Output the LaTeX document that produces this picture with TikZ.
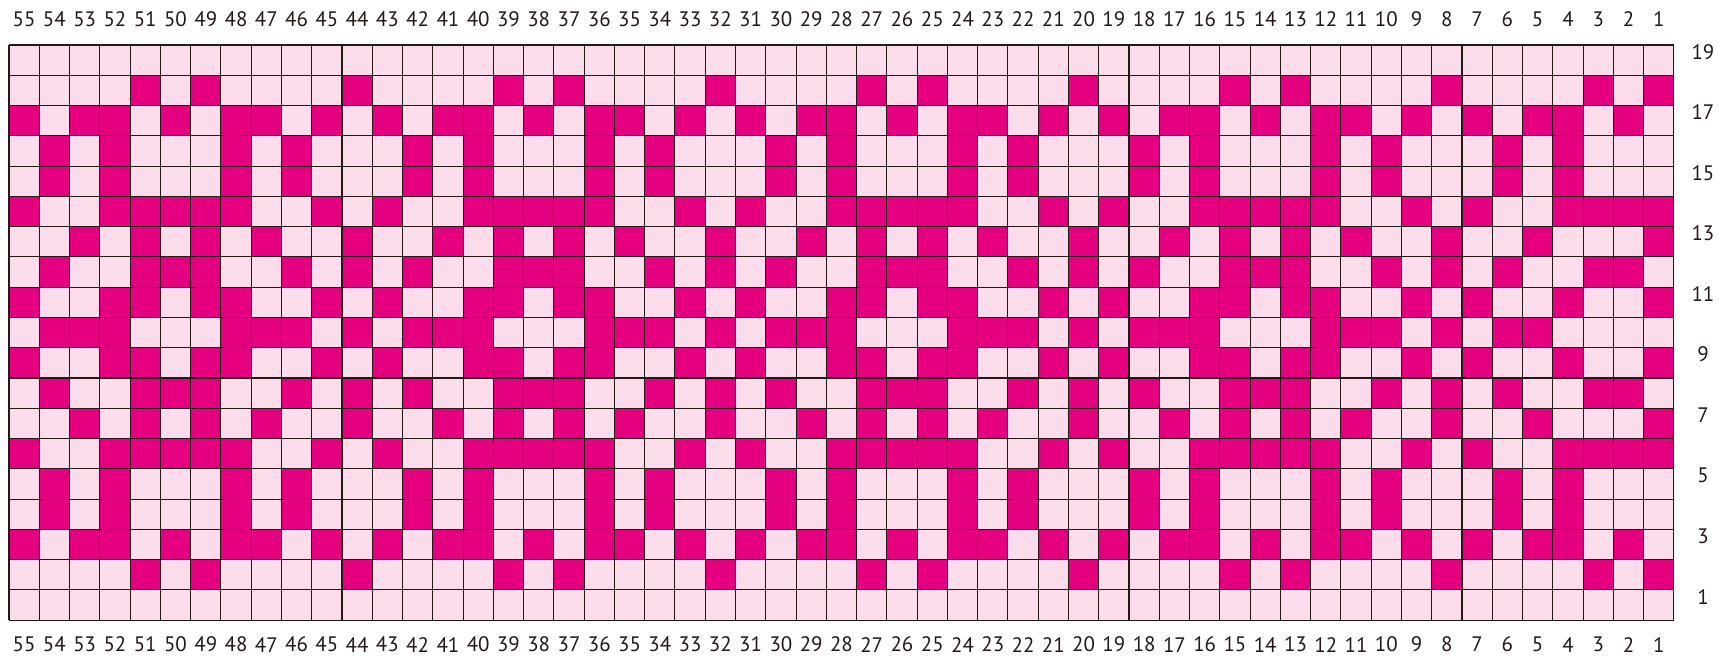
\documentclass[tikz,border=0pt]{standalone}
\usepackage{fontspec}
\setmainfont{PT Sans}
\definecolor{stitchdark}{RGB}{228,0,127}
\definecolor{stitchlight}{RGB}{250,220,234}
\definecolor{gridink}{RGB}{35,24,21}

\begin{document}
\begin{tikzpicture}[x=0.6cm, y=0.6cm, font=\fontsize{11.8}{14}\selectfont,
  numlabel/.style={inner sep=0pt, text=gridink},
  gridrule/.style={gridink, line width=0.6pt}]
\useasboundingbox (-0.297,-1.19) rectangle (56.49,20.487);
% ---- ground: every stitch light ----
\fill[stitchlight] (0,0) rectangle (55,19);
% ---- contrast stitches (row r and row 20-r are the same) ----
\foreach \r/\cols in {
  2/{51,49,44,39,37,32,27,25,20,15,13,8,3,1},
  3/{55,53,52,50,48,47,45,43,41,40,38,36,35,33,31,29,28,26,24,23,21,19,17,16,14,12,11,9,7,5,4,2},
  4/{54,52,48,46,42,40,36,34,30,28,24,22,18,16,12,10,6,4},
  5/{54,52,48,46,42,40,36,34,30,28,24,22,18,16,12,10,6,4},
  6/{55,52,51,50,49,48,45,43,40,39,38,37,36,33,31,28,27,26,25,24,21,19,16,15,14,13,12,9,7,4,3,2,1},
  7/{53,51,49,47,44,41,39,37,35,32,29,27,25,23,20,17,15,13,11,8,5,1},
  8/{54,51,50,49,46,44,42,39,38,37,34,32,30,27,26,25,22,20,18,15,14,13,10,8,6,3,2},
  9/{55,52,51,49,48,45,43,40,39,37,36,33,31,28,27,25,24,21,19,16,15,13,12,9,7,4,1},
  10/{54,53,52,48,47,46,44,42,41,40,36,35,34,32,30,29,28,24,23,22,20,18,17,16,12,11,10,8,6,5}}{
  \foreach \c in \cols {
    \fill[stitchdark] ({55-\c},{\r-1}) rectangle ++(1,1);
    \fill[stitchdark] ({55-\c},{19-\r}) rectangle ++(1,1);
  }
}
% ---- grid ----
\foreach \i in {0,...,55} \draw[gridrule] (\i,0) -- (\i,19);
\foreach \j in {0,...,19} \draw[gridrule] (0,\j) -- (55,\j);
% ---- stitch numbers, top and bottom ----
\foreach \c in {1,...,55}{
  \node[numlabel] (top\c) at ({55.5-\c},19.86) {\c};
  \node[numlabel] (bot\c) at ({55.5-\c},-0.81) {\c};
}
% ---- row numbers ----
\foreach \r in {1,3,...,19}{
  \node[numlabel] (row\r) at (55.96,{\r-0.23}) {\r};
}
\end{tikzpicture}
\end{document}
